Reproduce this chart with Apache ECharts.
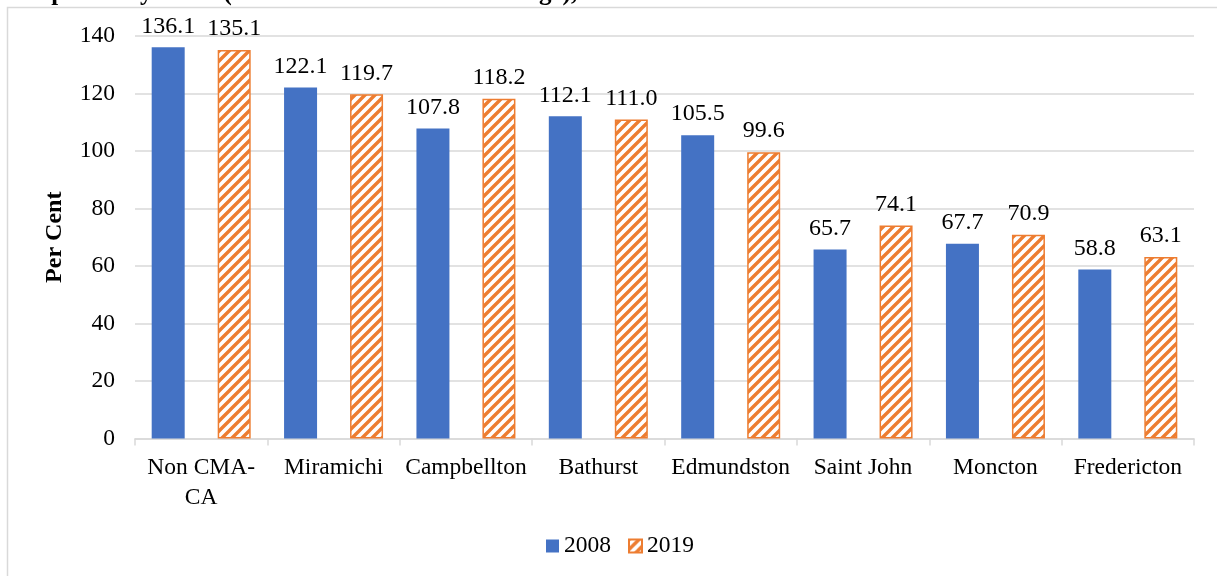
<!DOCTYPE html>
<html>
<head>
<meta charset="utf-8">
<script src="https://cdn.jsdelivr.net/npm/echarts@6/dist/echarts.min.js"></script>
<style>
  html, body { margin: 0; padding: 0; background: #fff; }
  #chart { width: 1217px; height: 576px; }
</style>
</head>
<body>
<div id="chart"></div>
<script>
// data
const categories = ["Non CMA-CA", "Miramichi", "Campbellton", "Bathurst", "Edmundston", "Saint John", "Moncton", "Fredericton"];
const values2008 = [136.1, 122.1, 107.8, 112.1, 105.5, 65.7, 67.7, 58.8];
const values2019 = [135.1, 119.7, 118.2, 111.0, 99.6, 74.1, 70.9, 63.1];
const yTicks = { min: 0, max: 140, interval: 20 };

const BLUE = "#4472C4";
const ORANGE = "#ED7D31";
const FONT = "'Liberation Serif', 'Times New Roman', serif";

// white fill with orange "/" stripes, like the Excel hatch
function makeHatch() {
	const s = 10;
	const c = document.createElement("canvas");
	c.width = s;
	c.height = s;
	const ctx = c.getContext("2d");
	ctx.fillStyle = "#fff";
	ctx.fillRect(0, 0, s, s);
	ctx.strokeStyle = ORANGE;
	ctx.lineWidth = 3.4;
	ctx.beginPath();
	ctx.moveTo(-2, s + 2); ctx.lineTo(s + 2, -2);
	ctx.moveTo(-s - 2, s + 2); ctx.lineTo(2, -2);
	ctx.moveTo(-2, 2 * s + 2); ctx.lineTo(2 * s + 2, -2);
	ctx.stroke();
	return c;
}

const chart = echarts.init(document.getElementById("chart"));

const labelStyle = {
	show: true,
	position: "top",
	distance: 9,
	color: "#000",
	fontFamily: FONT,
	fontSize: 24,
	formatter: (p) => p.value.toFixed(1),
};

chart.setOption({
	animation: false,
	textStyle: { fontFamily: FONT },
	graphic: [
		{
			type: "rect",
			shape: { x: 7.5, y: 7.5, width: 1300, height: 700 },
			style: { fill: "none", stroke: "#d9d9d9", lineWidth: 1.5 },
			silent: true,
		},
		{
			// title is cut off by the top edge in the reference
			type: "text",
			left: 22,
			top: -19,
			style: {
				text: "Dependency Ratio (Per Cent of Provincial Average), 2008 and 2019",
				font: "bold 25px " + FONT,
				fill: "#000",
			},
			silent: true,
		},
	],
	grid: { left: 135, right: 23, top: 36, bottom: 137.5 },
	legend: {
		bottom: 18,
		left: 546,
		padding: 0,
		itemWidth: 13,
		itemHeight: 13,
		itemGap: 17,
		icon: "rect",
		textStyle: { color: "#000", fontFamily: FONT, fontSize: 23.5, padding: [0, 0, 0, 0] },
		data: ["2008", "2019"],
	},
	xAxis: {
		type: "category",
		data: categories,
		axisLine: { lineStyle: { color: "#d9d9d9", width: 1.5 } },
		axisTick: { show: true, length: 7, lineStyle: { color: "#d9d9d9", width: 1.5 } },
		axisLabel: {
			color: "#000",
			fontFamily: FONT,
			fontSize: 23.5,
			margin: 14,
			lineHeight: 30,
			interval: 0,
			formatter: (v) => (v === "Non CMA-CA" ? "Non CMA-\nCA" : v),
		},
	},
	yAxis: {
		type: "value",
		min: yTicks.min,
		max: yTicks.max,
		interval: yTicks.interval,
		name: "Per Cent",
		nameLocation: "middle",
		nameGap: 68,
		nameRotate: 90,
		nameTextStyle: { color: "#000", fontFamily: FONT, fontSize: 24, fontWeight: "bold" },
		axisLine: { show: false },
		axisTick: { show: false },
		axisLabel: { color: "#000", fontFamily: FONT, fontSize: 23.5, margin: 20 },
		splitLine: { lineStyle: { color: "#d9d9d9", width: 1.5 } },
	},
	series: [
		{
			name: "2008",
			type: "bar",
			data: values2008,
			barWidth: 33,
			barGap: "100%",
			itemStyle: { color: BLUE },
			label: labelStyle,
		},
		{
			name: "2019",
			type: "bar",
			data: values2019,
			barWidth: 33,
			itemStyle: {
				color: { image: makeHatch(), repeat: "repeat" },
				borderColor: ORANGE,
				borderWidth: 1.5,
			},
			label: labelStyle,
		},
	],
});
</script>
</body>
</html>
